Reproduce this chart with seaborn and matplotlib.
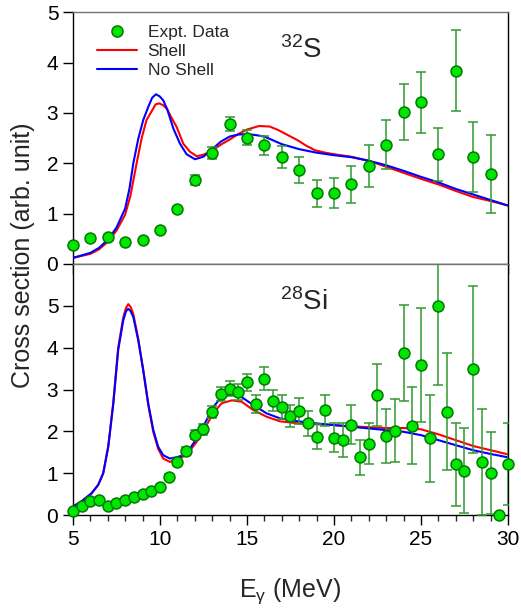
import numpy as np
import pandas as pd
import seaborn as sns
import matplotlib.pyplot as plt
from matplotlib.ticker import MultipleLocator
from matplotlib.lines import Line2D

sns.set_style("ticks")
plt.rcParams["font.family"] = ["Liberation Sans", "DejaVu Sans"]
plt.rcParams["mathtext.fontset"] = "custom"
plt.rcParams["mathtext.rm"] = "Liberation Sans"
plt.rcParams["mathtext.it"] = "Liberation Sans:italic"

# ---- 32S data ----
s_energy = list(range(5, 30))
s_xs = [0.37, 0.52, 0.53, 0.43, 0.48, 0.67, 1.09, 1.67, 2.20, 2.78, 2.51,
        2.36, 2.12, 1.87, 1.40, 1.41, 1.58, 1.94, 2.37, 3.02, 3.21, 2.18,
        3.84, 2.12, 1.79]
s_err = [0.03, 0.03, 0.03, 0.03, 0.03, 0.04, 0.05, 0.10, 0.12, 0.13, 0.15,
         0.19, 0.22, 0.26, 0.26, 0.30, 0.36, 0.42, 0.48, 0.56, 0.61, 0.53,
         0.81, 0.70, 0.77]

s_shell_e = [5, 5.5, 6, 6.5, 7, 7.5, 8, 8.3, 8.66, 8.95, 9.23, 9.52, 9.75,
             9.96, 10.2, 10.42, 10.7, 10.96, 11.34, 11.72, 12.11, 12.5, 13.0,
             13.5, 14, 14.5, 15, 15.7, 16.3, 16.8, 17.4, 17.9, 18.4, 18.9,
             19.5, 20, 21, 22, 23, 24, 25, 26, 27, 28, 29, 30]
s_shell = [0.12, 0.16, 0.20, 0.29, 0.44, 0.66, 0.98, 1.35, 2.00, 2.50, 2.86,
           3.03, 3.17, 3.19, 3.15, 3.07, 2.88, 2.72, 2.39, 2.23, 2.14, 2.17,
           2.25, 2.37, 2.47, 2.58, 2.67, 2.74, 2.73, 2.66, 2.55, 2.46, 2.35,
           2.26, 2.21, 2.18, 2.13, 2.05, 1.93, 1.81, 1.69, 1.58, 1.45, 1.33,
           1.25, 1.16]

s_noshell_e = [5, 5.5, 6, 6.5, 7, 7.5, 8, 8.25, 8.47, 8.75, 9.04, 9.33, 9.55,
               9.77, 9.98, 10.19, 10.42, 10.77, 11.15, 11.53, 12.01, 12.5,
               13.0, 13.5, 14, 14.5, 15, 15.5, 16, 17, 18, 19, 20, 21, 22, 23,
               24, 25, 26, 27, 28, 29, 30]
s_noshell = [0.12, 0.17, 0.22, 0.32, 0.48, 0.72, 1.10, 1.50, 2.00, 2.48,
             2.86, 3.12, 3.30, 3.37, 3.33, 3.25, 3.07, 2.69, 2.39, 2.18, 2.08,
             2.13, 2.28, 2.43, 2.53, 2.57, 2.58, 2.56, 2.53, 2.38, 2.28, 2.21,
             2.16, 2.12, 2.05, 1.96, 1.85, 1.73, 1.62, 1.49, 1.38, 1.27, 1.16]

# ---- 28Si data ----
si_energy = [5, 5.5, 6, 6.5, 7, 7.5, 8, 8.5, 9, 9.5, 10, 10.5, 11, 11.5, 12,
             12.5, 13, 13.5, 14, 14.5, 15, 15.5, 16, 16.5, 17, 17.5, 18, 18.5,
             19, 19.5, 20, 20.5, 21, 21.5, 22, 22.5, 23, 23.5, 24, 24.5, 25,
             25.5, 26, 26.5, 27, 27.5, 28, 28.5, 29, 29.5, 30]
si_xs = [0.10, 0.22, 0.34, 0.37, 0.22, 0.28, 0.35, 0.44, 0.51, 0.57, 0.68,
         0.92, 1.26, 1.53, 1.92, 2.05, 2.46, 2.89, 3.02, 2.94, 3.17, 2.65,
         3.26, 2.73, 2.58, 2.37, 2.48, 2.19, 1.87, 2.50, 1.85, 1.79, 2.16,
         1.38, 1.70, 2.86, 1.89, 2.02, 3.87, 2.14, 3.59, 1.83, 5.00, 2.47,
         1.21, 1.06, 3.48, 1.27, 1.01, 0.00, 1.21]
si_err = [0.02, 0.02, 0.02, 0.02, 0.02, 0.02, 0.02, 0.03, 0.03, 0.03, 0.04,
          0.05, 0.07, 0.09, 0.11, 0.13, 0.15, 0.17, 0.18, 0.19, 0.21, 0.21,
          0.27, 0.25, 0.28, 0.27, 0.31, 0.30, 0.30, 0.38, 0.35, 0.40, 0.46,
          0.42, 0.49, 0.74, 0.65, 0.75, 1.15, 0.93, 1.36, 1.04, 1.90, 1.40,
          0.99, 1.02, 2.00, 1.26, 0.98, 0.00, 0.98]

si_shell_e = [5, 5.5, 6.07, 6.45, 6.74, 7.03, 7.32, 7.6, 7.89, 8.05, 8.18,
              8.32, 8.47, 8.75, 9.04, 9.33, 9.62, 9.9, 10.19, 10.57, 11.05,
              11.53, 12.11, 12.68, 13.06, 13.54, 14.12, 14.69, 15.36, 16.13,
              16.9, 17.95, 19, 20, 21, 22, 23, 24, 25, 26, 27, 28, 29, 30]
si_shell = [0.20, 0.33, 0.52, 0.72, 1.00, 1.65, 2.70, 4.00, 4.72, 4.95, 5.04,
            4.97, 4.80, 4.22, 3.46, 2.62, 1.98, 1.58, 1.35, 1.27, 1.35, 1.43,
            1.75, 2.15, 2.43, 2.67, 2.74, 2.71, 2.51, 2.35, 2.24, 2.19, 2.17,
            2.15, 2.12, 2.10, 2.08, 2.08, 2.05, 1.93, 1.79, 1.65, 1.55, 1.45]

si_noshell_e = [5, 5.5, 6.07, 6.45, 6.74, 7.03, 7.32, 7.6, 7.89, 8.05, 8.18,
                8.32, 8.47, 8.75, 9.04, 9.33, 9.62, 9.9, 10.19, 10.57, 11.05,
                11.53, 12.11, 12.68, 13.06, 13.54, 14.12, 14.69, 15.36, 16.13,
                16.9, 17.95, 19, 20, 21, 22, 23, 24, 25, 26, 27, 28, 29, 30]
si_noshell = [0.20, 0.33, 0.52, 0.72, 1.00, 1.63, 2.66, 3.94, 4.65, 4.87,
              4.93, 4.87, 4.73, 4.18, 3.46, 2.66, 2.03, 1.63, 1.43, 1.35,
              1.39, 1.47, 1.83, 2.27, 2.58, 2.82, 2.90, 2.82, 2.63, 2.43,
              2.31, 2.24, 2.19, 2.15, 2.11, 2.07, 2.03, 1.99, 1.91, 1.79,
              1.67, 1.55, 1.46, 1.38]

RED = "#ff0000"
BLUE = "#0000ff"
FACE = "#00e600"
EDGE = "#007a00"
BAR = "#2f9a2f"

fig = plt.figure(figsize=(5.21, 6.11), dpi=100)
ax1 = fig.add_axes([0.140, 0.568, 0.835, 0.412])
ax2 = fig.add_axes([0.140, 0.157, 0.835, 0.411])


def draw_panel(ax, e, xs, err, se, shell, ne, noshell, label, ymax):
    sns.lineplot(x=se, y=shell, ax=ax, color=RED, linewidth=1.5,
                 sort=False, estimator=None, zorder=2)
    sns.lineplot(x=ne, y=noshell, ax=ax, color=BLUE, linewidth=1.5,
                 sort=False, estimator=None, zorder=3)
    ax.errorbar(e, xs, yerr=err, fmt="none", ecolor=BAR, elinewidth=1.1,
                capsize=3.5, capthick=1.1, zorder=4)
    sns.scatterplot(x=e, y=xs, ax=ax, s=62, color=FACE, edgecolor=EDGE,
                    linewidth=1.1, zorder=5, clip_on=False)
    ax.set_xlim(5, 30)
    ax.set_ylim(0, ymax)
    ax.set_yticks(range(0, 6))
    ax.xaxis.set_major_locator(MultipleLocator(5))
    ax.xaxis.set_minor_locator(MultipleLocator(1))
    ax.tick_params(axis="both", which="major", direction="out", length=7,
                   width=1, labelsize=15, colors="black")
    ax.tick_params(axis="x", which="minor", direction="out", length=4,
                   width=1)
    for sp in ax.spines.values():
        sp.set_visible(True)
        sp.set_linewidth(1)
        sp.set_color("black")
    ax.spines["top"].set_color("0.45")
    ax.set_xlabel("")
    ax.set_ylabel("")
    ax.text(0.476, 0.817, label, transform=ax.transAxes, fontsize=20,
            va="baseline", ha="left")


draw_panel(ax1, s_energy, s_xs, s_err, s_shell_e, s_shell,
           s_noshell_e, s_noshell, r"$^{32}$S", 5)
draw_panel(ax2, si_energy, si_xs, si_err, si_shell_e, si_shell,
           si_noshell_e, si_noshell, r"$^{28}$Si", 6)

ax1.tick_params(axis="x", labelbottom=False)

handles = [
    Line2D([], [], linestyle="none", marker="o", markersize=8,
           markerfacecolor=FACE, markeredgecolor=EDGE, markeredgewidth=1.1),
    Line2D([], [], color=RED, linewidth=1.5),
    Line2D([], [], color=BLUE, linewidth=1.5),
]
ax1.legend(handles, ["Expt. Data", "Shell", "No Shell"], loc="upper left",
           frameon=False, fontsize=12.5, handlelength=2.3,
           handletextpad=0.6, labelspacing=0.2,
           bbox_to_anchor=(0.02, 1.01))

ax2.set_xlabel(r"E$_{\mathregular{\gamma}}$ (MeV)", fontsize=18, labelpad=20)
fig.text(0.045, 0.583, "Cross section (arb. unit)", rotation=90,
         fontsize=18, va="center", ha="center")

fig.savefig("out.png", dpi=100)
